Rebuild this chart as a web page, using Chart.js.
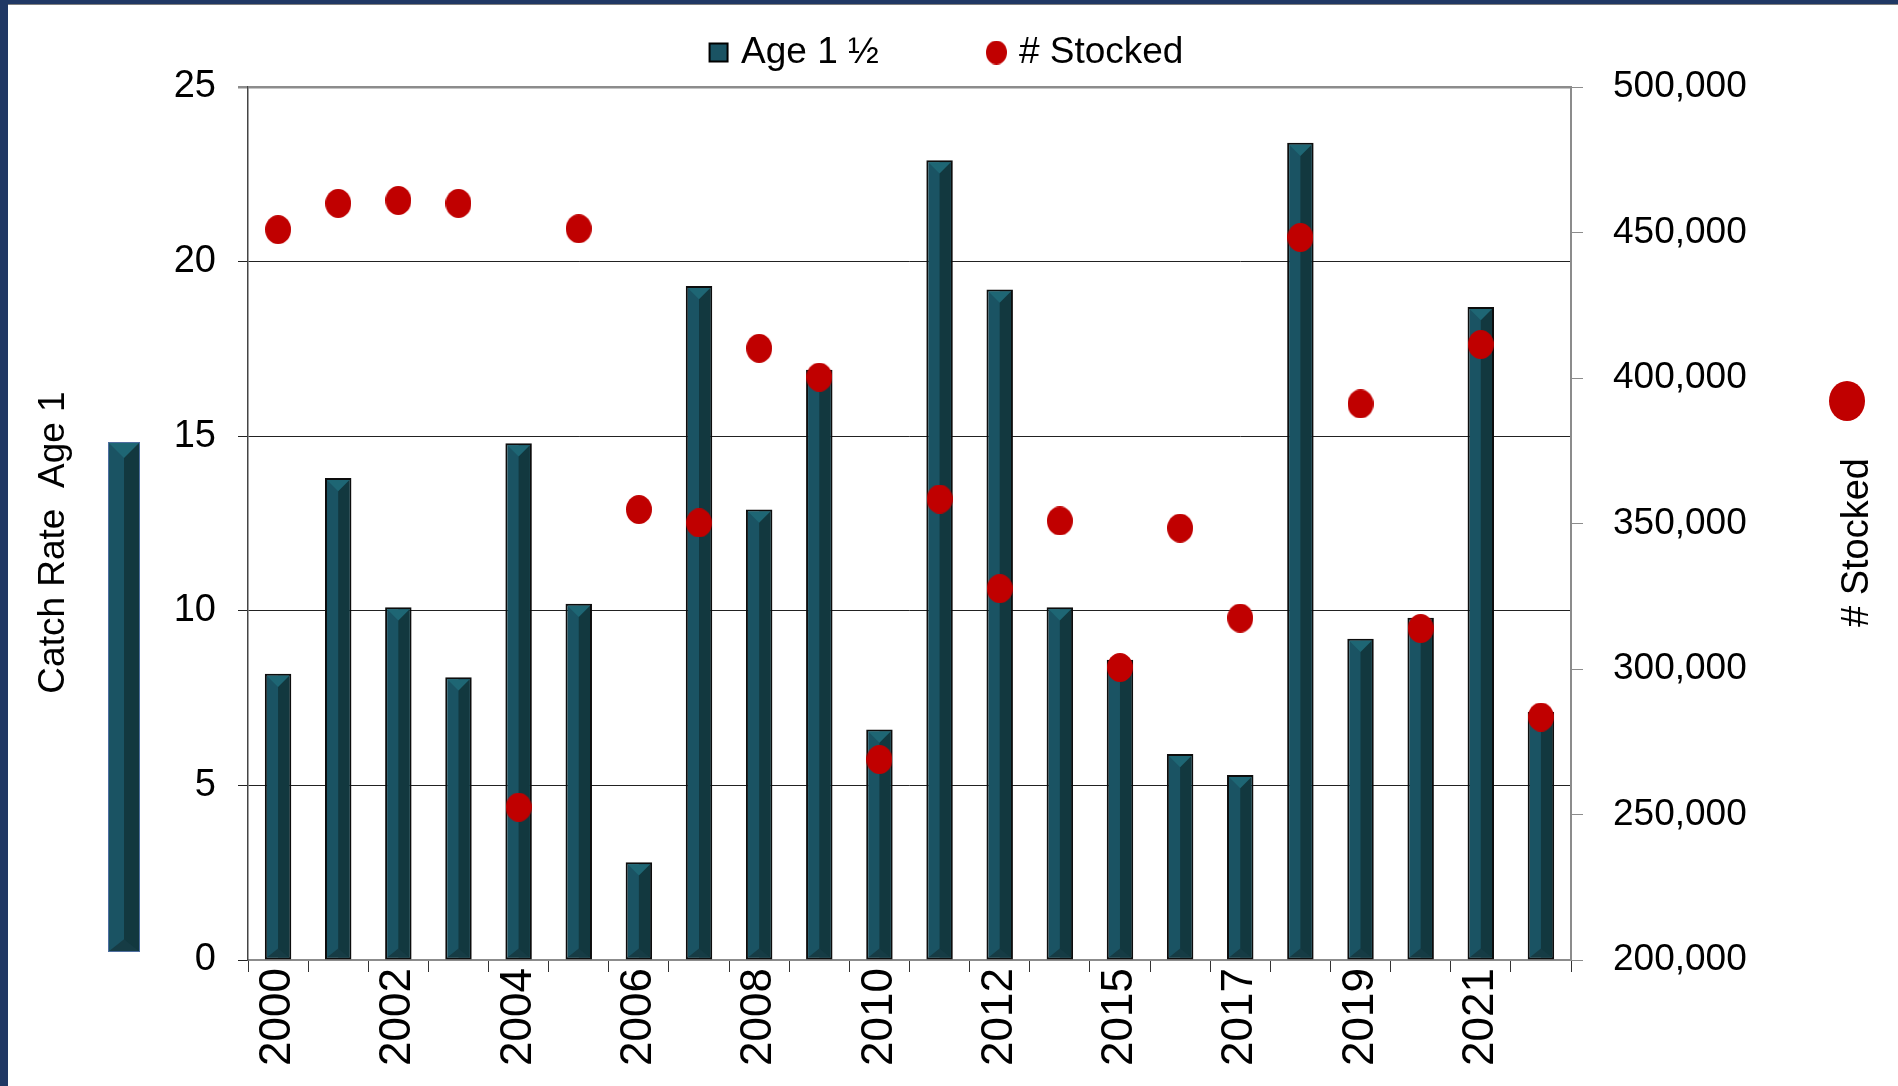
<!DOCTYPE html>
<html>
<head>
<meta charset="utf-8">
<script src="https://cdn.jsdelivr.net/npm/chart.js@4.4.1/dist/chart.umd.min.js"></script>
<style>
  html, body { margin: 0; padding: 0; background: #fff; }
  canvas { display: block; }
</style>
</head>
<body>
<canvas id="chart" width="1898" height="1086"></canvas>
<script>
// Years on the category axis (only every other one gets a label)
const years = ['2000', '2001', '2002', '2003', '2004', '2005', '2006', '2007', '2008', '2009', '2010',
  '2011', '2012', '2014', '2015', '2016', '2017', '2018', '2019', '2020', '2021', '2022'];

// Catch rate of age 1 1/2 fish (left axis)
const catchRate = [8.2, 13.8, 10.1, 8.1, 14.8, 10.2, 2.8, 19.3, 12.9, 16.9, 6.6,
  22.9, 19.2, 10.1, 8.6, 5.9, 5.3, 23.4, 9.2, 9.8, 18.7, 7.1];

// Number stocked (right axis)
const stocked = [451000, 460000, 461000, 460000, 252500, 451300, 354800, 350200, 410200, 400300, 268900,
  358400, 327600, 350900, 300500, 348400, 317500, 448300, 391100, 313900, 411500, 283500];

const leftTitle = 'Catch Rate  Age 1';
const rightTitle = '# Stocked';

const FONT = "'Liberation Sans', Arial, sans-serif";
const NAVY = '#203864';
const RED = '#c00000';

// slightly tall red dot, like the stretched original
function makeDot(w, h) {
  const c = document.createElement('canvas');
  c.width = w;
  c.height = h;
  const g = c.getContext('2d');
  g.fillStyle = RED;
  g.beginPath();
  g.ellipse(w / 2, h / 2, w / 2, h / 2, 0, 0, Math.PI * 2);
  g.fill();
  return c;
}
const dot = makeDot(26, 29);
const legendDot = makeDot(21, 24);

// draws the bevelled "3D" look of a bar
function drawBevel(ctx, l, r, top, bottom, inset) {
  const w = r - l;
  const mid = (l + r) / 2;
  const tri = w / 2 - inset;
  ctx.save();
  ctx.fillStyle = '#12383f';
  ctx.fillRect(mid, top + inset, r - inset - mid, bottom - top - 2 * inset);
  ctx.fillStyle = '#1e6674';
  ctx.beginPath();
  ctx.moveTo(l + inset, top + inset);
  ctx.lineTo(r - inset, top + inset);
  ctx.lineTo(mid, top + inset + Math.min(tri, bottom - top - 2 * inset));
  ctx.closePath();
  ctx.fill();
  if (bottom - top > w) {
    ctx.fillStyle = '#163c45';
    ctx.beginPath();
    ctx.moveTo(l + inset, bottom - inset);
    ctx.lineTo(r - inset, bottom - inset);
    ctx.lineTo(mid, bottom - inset - tri * 0.8);
    ctx.closePath();
    ctx.fill();
  }
  ctx.restore();
}

const decorations = {
  id: 'decorations',
  // give the legend box a little extra room below the items
  beforeLayout(chart) {
    const lg = chart.legend;
    if (lg && !lg._padded) {
      const fit = lg.fit.bind(lg);
      lg.fit = function () {
        fit();
        this.height += 6;
      };
      lg._padded = true;
    }
  },
  beforeDraw(chart) {
    const ctx = chart.ctx;
    ctx.save();
    ctx.fillStyle = '#fff';
    ctx.fillRect(0, 0, chart.width, chart.height);
    ctx.fillStyle = NAVY;
    ctx.fillRect(0, 0, 8, chart.height);
    ctx.fillRect(0, 0, chart.width, 4);
    ctx.fillStyle = '#7f7f7f';
    ctx.fillRect(8, 4, chart.width, 1);
    ctx.restore();
  },
  afterDatasetDraw(chart, args) {
    if (args.index !== 0) return;
    const ctx = chart.ctx;
    args.meta.data.forEach(bar => {
      const p = bar.getProps(['x', 'y', 'base', 'width'], true);
      drawBevel(ctx, p.x - p.width / 2, p.x + p.width / 2, p.y, p.base, 2);
    });
  },
  afterDraw(chart) {
    const ctx = chart.ctx;
    const area = chart.chartArea;
    const midY = (area.top + area.bottom) / 2 + 19;
    ctx.save();
    // legend key bar beside the left axis title
    ctx.fillStyle = '#1a5363';
    ctx.fillRect(108, 442, 32, 510);
    drawBevel(ctx, 108, 140, 442, 952, 0);
    ctx.strokeStyle = '#4f6fa0';
    ctx.lineWidth = 1;
    ctx.strokeRect(108.5, 442.5, 31, 509);
    // big red key dot on the right
    ctx.fillStyle = RED;
    ctx.beginPath();
    ctx.ellipse(1847, 401, 18, 20, 0, 0, Math.PI * 2);
    ctx.fill();
    // axis titles, both reading bottom to top
    ctx.fillStyle = '#000';
    ctx.font = '37px ' + FONT;
    ctx.textAlign = 'center';
    ctx.textBaseline = 'middle';
    ctx.translate(54, midY);
    ctx.rotate(-Math.PI / 2);
    ctx.fillText(leftTitle, 0, 0);
    ctx.restore();
    ctx.save();
    ctx.fillStyle = '#000';
    ctx.font = '38px ' + FONT;
    ctx.textAlign = 'center';
    ctx.textBaseline = 'middle';
    ctx.translate(1858, midY);
    ctx.rotate(-Math.PI / 2);
    ctx.fillText(rightTitle, 0, 0);
    ctx.restore();
  }
};

Chart.defaults.font.family = FONT;
Chart.defaults.color = '#000';

new Chart(document.getElementById('chart'), {
  type: 'bar',
  data: {
    labels: years,
    datasets: [
      {
        label: 'Age 1 \u00bd',
        data: catchRate,
        yAxisID: 'y',
        order: 2,
        backgroundColor: '#1a5363',
        borderColor: '#0d0d0d',
        borderWidth: 2,
        borderSkipped: false,
        categoryPercentage: 1,
        barPercentage: 0.44,
        pointStyle: 'rect'
      },
      {
        type: 'line',
        label: '# Stocked',
        data: stocked,
        yAxisID: 'y1',
        order: 1,
        showLine: false,
        pointStyle: dot,
        pointRadius: 13,
        pointHoverRadius: 13,
        backgroundColor: RED,
        borderColor: RED
      }
    ]
  },
  options: {
    responsive: false,
    devicePixelRatio: 1,
    animation: false,
    layout: { padding: { top: 13, left: 0, right: 0, bottom: 0 } },
    plugins: {
      tooltip: { enabled: false },
      legend: {
        position: 'top',
        labels: {
          usePointStyle: true,
          boxWidth: 8,
          boxHeight: 18,
          padding: 21,
          font: { size: 37 },
          color: '#000',
          generateLabels(chart) {
            const items = Chart.defaults.plugins.legend.labels.generateLabels(chart);
            items.sort((a, b) => a.datasetIndex - b.datasetIndex);
            items[0].text = items[0].text + '\u2003\u2003\u2002';
            items[0].strokeStyle = '#000';
            items[0].lineWidth = 2;
            items[1].pointStyle = legendDot;
            return items;
          }
        }
      }
    },
    scales: {
      x: {
        offset: true,
        grid: { offset: true, drawOnChartArea: false, tickLength: 12, color: '#333' },
        border: { color: '#8c8c8c', width: 2 },
        ticks: {
          autoSkip: false,
          minRotation: 90,
          maxRotation: 90,
          padding: -4,
          font: { size: 44 },
          color: '#000',
          callback: (v, i) => (i % 2 === 0 ? years[i] : '')
        },
        afterFit: s => { s.height = 126; }
      },
      y: {
        position: 'left',
        min: 0,
        max: 25,
        ticks: { stepSize: 5, padding: 22, font: { size: 38 }, color: '#000' },
        grid: {
          color: c => (c.tick && c.tick.value === 25 ? '#8c8c8c' : '#222'),
          lineWidth: c => (c.tick && c.tick.value === 25 ? 2.5 : 1),
          tickLength: 10
        },
        border: { color: '#444', width: 1.5 },
        afterFit: s => { s.width = 248; }
      },
      y1: {
        position: 'right',
        min: 200000,
        max: 500000,
        ticks: {
          stepSize: 50000,
          padding: 30,
          font: { size: 37 },
          color: '#000',
          callback: v => v.toLocaleString('en-US')
        },
        grid: { drawOnChartArea: false, tickLength: 12, color: '#8c8c8c' },
        border: { color: '#8c8c8c', width: 2 },
        afterFit: s => { s.width = 327; }
      }
    }
  },
  plugins: [decorations]
});
</script>
</body>
</html>
